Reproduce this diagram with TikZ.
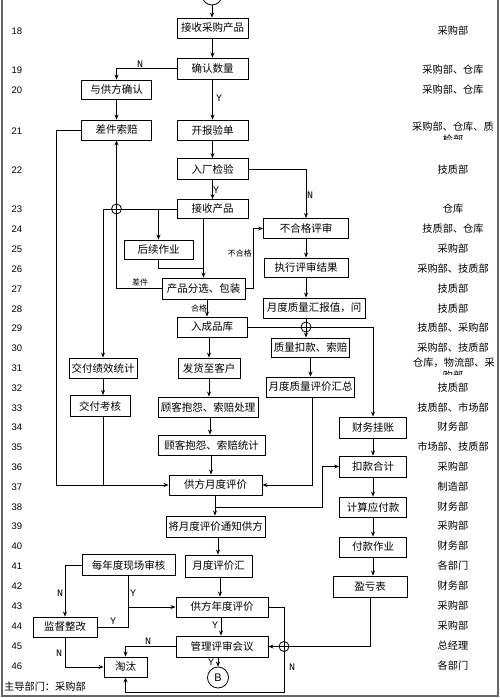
\documentclass[tikz,border=0pt]{standalone}
\usepackage{fontspec}
\setmainfont{Liberation Serif}
\newfontfamily\cjk{Noto Sans CJK SC}
\newfontfamily\numfont{Liberation Sans}
\newfontfamily\monofont{Liberation Mono}
\usetikzlibrary{arrows.meta,calc}
\tikzset{
 box/.style={draw, line width=0.9pt, minimum height=20pt, inner sep=0pt, font=\cjk\fontsize{10.5}{12}\selectfont},
 conn/.style={line width=0.8pt},
 arr/.style={conn,-{Stealth[length=5pt,width=4pt]}},
 yn/.style={font=\monofont\fontsize{10}{11}\selectfont, inner sep=0pt},
 lbl/.style={font=\cjk\fontsize{8}{9}\selectfont, inner sep=0pt},
 dept/.style={font=\cjk\fontsize{10.2}{12}\selectfont, inner sep=0pt},
 rownum/.style={font=\numfont\fontsize{9.5}{11}\selectfont, inner sep=0pt, anchor=west},
 jump/.style={draw, circle, line width=0.8pt, minimum size=10pt, inner sep=0pt},
 conncirc/.style={draw, circle, line width=0.8pt, inner sep=0pt},
}
\begin{document}
\begin{tikzpicture}[x=1pt,y=-1pt]
\useasboundingbox (0,0) rectangle (500,698);
% frame
\draw[line width=1.4pt, black!60] (2,-10) -- (2,696) -- (498,696) -- (498,-10);
% column coordinates
\coordinate (c207) at (207,0);
\coordinate (c210) at (210,0);
\coordinate (c211) at (211,0);
\coordinate (c215) at (215,0);
\coordinate (c218) at (218,0);
\coordinate (c220) at (220,0);
\coordinate (c221) at (221,0);
\coordinate (c312) at (312,0);
% boxes
\node[conncirc, minimum size=20pt] (A) at (212,-5) {};
\node[box, minimum width=71pt] (n18) at (212.5,28) {接收采购产品};
\node[box, minimum width=71pt, minimum height=21pt] (n19) at (212.5,68.5) {确认数量};
\node[box, minimum width=70pt, minimum height=19pt] (n20) at (116.5,89.5) {与供方确认};
\node[box, minimum width=70pt] (n21a) at (116.5,130) {差件索赔};
\node[box, minimum width=71pt] (n21b) at (212.5,130) {开报验单};
\node[box, minimum width=71pt, minimum height=21pt] (n22) at (212.5,169) {入厂检验};
\node[box, minimum width=71pt, minimum height=19pt] (n23) at (212.5,209) {接收产品};
\node[box, minimum width=85pt] (n24) at (306,228.5) {不合格评审};
\node[box, minimum width=69pt, minimum height=19pt] (n25) at (158.5,249.5) {后续作业};
\node[box, minimum width=84pt, minimum height=19pt] (n26) at (306,267.5) {执行评审结果};
\node[box, minimum width=83pt, minimum height=21pt] (n27) at (203.5,288.5) {产品分选、包装};
\node[box, minimum width=102pt] (n28) at (314,308) {月度质量汇报值，问};
\node[box, minimum width=70pt] (n29) at (212,327) {入成品库};
\node[box, minimum width=78pt, minimum height=19pt] (n30) at (310.5,347.5) {质量扣款、索赔};
\node[box, minimum width=68pt] (n31a) at (103,368) {交付绩效统计};
\node[box, minimum width=62pt] (n31b) at (209,368) {发货至客户};
\node[box, minimum width=88pt] (n32) at (310.5,387) {月度质量评价汇总};
\node[box, minimum width=60pt, minimum height=21pt] (n33a) at (100,406) {交付考核};
\node[box, minimum width=100pt] (n33b) at (208,407) {顾客抱怨、索赔处理};
\node[box, minimum width=67pt, minimum height=21pt] (n34) at (373,427.5) {财务挂账};
\node[box, minimum width=107pt] (n35) at (211.5,445) {顾客抱怨、索赔统计};
\node[box, minimum width=67pt, minimum height=21pt] (n36) at (373,466.5) {扣款合计};
\node[box, minimum width=93pt] (n37) at (215.5,485) {供方月度评价};
\node[box, minimum width=67pt] (n38) at (373,507) {计算应付款};
\node[box, minimum width=99pt, minimum height=21pt] (n39) at (215.5,526.5) {将月度评价通知供方};
\node[box, minimum width=67pt] (n40) at (373,547) {付款作业};
\node[box, minimum width=93pt, minimum height=21pt] (n41a) at (128.5,565) {每年度现场审核};
\node[box, minimum width=67pt, minimum height=22pt] (n41b) at (218.5,566) {月度评价汇};
\node[box, minimum width=74pt, minimum height=21pt] (n42) at (370,586.5) {盈亏表};
\node[box, minimum width=92pt] (n43) at (222,607) {供方年度评价};
\node[box, minimum width=64pt] (n44) at (65,627) {监督整改};
\node[box, minimum width=92pt, minimum height=21pt] (n45) at (222,646.5) {管理评审会议};
\node[box, minimum width=43pt] (n46) at (125.5,667) {淘汰};
\node[conncirc, minimum size=21pt, font=\numfont\fontsize{11}{12}\selectfont] (B) at (218,677.5) {B};
% connectors
\draw[arr] (A.south) -- (n18.north -| A.south);
\draw[arr] (n18) -- (n19);
\draw[arr] (n19.west) -| (n20.north);
\draw[arr] (n19) -- (n21b);
\draw[arr] (n20) -- (n21a);
\draw[arr] (n21b) -- (n22);
\draw[arr] (n22) -- (n23);
\draw[arr] (n22.east) -| (n24.north);
\coordinate (l21) at (56.5,130);
\draw[arr] (n21a.west) -- (l21) |- (n37.west);
\draw[arr] (n23.west) -| (n31a.north);
\node[jump] at (n21a.south |- n23.west) {};
\draw[arr] (n23.west -| n25.north) -- (n25.north);
\draw[arr] (n23.south -| n27.north) -- (n27.north);
\coordinate (m25) at (203.5,268);
\draw[conn] (n25.south) |- (m25);
\draw[arr] (n27.west) -| (n21a.south);
\draw[arr] (n27.south -| c207) -- (n29.north -| c207);
\coordinate (r27) at (253,288.5);
\draw[arr] (n27.east) -- (r27) |- (n24.west);
\draw[arr] (n24) -- (n26);
\draw[arr] (n26.south) -- (n28.north -| n26.south);
\draw[arr] (n28.south -| n26.south) -- (n30.north -| n26.south);
\draw[arr] (n29.east) -| (n34.north);
\node[jump] at (n29.east -| n26.south) {};
\draw[arr] (n29.south -| n31b.north) -- (n31b.north);
\draw[arr] (n30) -- (n32);
\draw[arr] (n31a.south) -- (n33a.north -| n31a.south);
\draw[conn] (n33a.south -| n31a.south) -- (n31a.south |- n37.west);
\draw[arr] (n31b.south) -- (n33b.north -| n31b.south);
\draw[arr] (n33b.south -| c210) -- (n35.north -| c210);
\draw[arr] (n35.south -| c211) -- (n37.north -| c211);
\draw[arr] (n32.south -| c312) |- (n37.east);
\draw[arr] (n34) -- (n36);
\draw[arr] (n37.south -| c215) -- (n39.north -| c215);
\coordinate (b38) at (215,507);
\coordinate (b38r) at (322,507);
\draw[arr] (b38) -- (b38r) |- (n36.west);
\draw[arr] (n36) -- (n38);
\draw[arr] (n38) -- (n40);
\draw[arr] (n40.south) -- (n42.north -| n40.south);
\draw[arr] (n39.south -| c218) -- (n41b.north -| c218);
\draw[arr] (n41b.south -| c220) -- (n43.north -| c220);
\draw[arr] (n41a.west) -| (n44.north);
\draw[conn] (n41a.south) -- (n41a.south |- n44.east);
\draw[conn] (n44.east) -- (n41a.south |- n44.east);
\draw[arr] (n41a.south |- n43.west) -- (n43.west);
\draw[arr] (n44.south) |- (n46.west);
\draw[arr] (n43.south -| c221) -- (n45.north -| c221);
\draw[arr] (n45.west) -| (n46.north);
\draw[arr] (n45.south -| B.north) -- (B.north);
\coordinate (r43) at (284,607);
\coordinate (r46) at (284,692);
\draw[arr] (n43.east) -- (r43) -- (r46) -| (n46.south);
\node[jump] at (r43 |- n45.east) {};
\draw[arr] (n42.south) |- (n45.east);
% connector labels
\node[yn] at (140,64) {N};
\node[yn] at (219,98) {Y};
\node[yn] at (216,190) {Y};
\node[yn] at (310,195) {N};
\node[lbl] at (199,308) {合格};
\node[lbl, anchor=east] at (252,253) {不合格};
\node[lbl] at (140,282) {差件};
\node[yn] at (60,593) {N};
\node[yn] at (133,593) {Y};
\node[yn] at (113,621) {Y};
\node[yn] at (59,653) {N};
\node[yn] at (215,625) {Y};
\node[yn] at (148,641) {N};
\node[yn] at (211,662) {Y};
\node[yn] at (292,667) {N};
% row numbers
\foreach \n/\y in {18/31,19/70,20/90,21/131,22/170,23/209,24/229,25/249,26/269,27/289,28/309,29/328,30/348,31/368,32/388,33/408,34/427,35/447,36/467,37/487,38/507,39/526,40/546,41/566,42/586,43/606,44/626,45/646,46/666}
  \node[rownum] at (11.5,\y) {\n};
% departments
\foreach \t/\y in {采购部/31,采购部、仓库/70,采购部、仓库/90,技质部/170,仓库/209,技质部、仓库/229,采购部/249,采购部、技质部/269,技质部/289,技质部/309,技质部、采购部/328,采购部、技质部/348,技质部/388,技质部、市场部/408,财务部/427,市场部、技质部/447,采购部/467,制造部/487,财务部/507,采购部/526,财务部/546,各部门/566,财务部/586,采购部/606,采购部/626,总经理/646,各部门/666}
  \node[dept] at (453,\y) {\t};
\node[dept] at (453,127) {采购部、仓库、质};
\begin{scope}
\clip (400,134) rectangle (497,139.5);
\node[dept] at (453,140) {检部};
\end{scope}
\node[dept] at (454,363) {仓库，物流部、采};
\begin{scope}
\clip (400,370) rectangle (497,374.5);
\node[dept] at (453,375.5) {购部};
\end{scope}
\node[dept, anchor=west] at (4,687) {主导部门：采购部};
\end{tikzpicture}
\end{document}
